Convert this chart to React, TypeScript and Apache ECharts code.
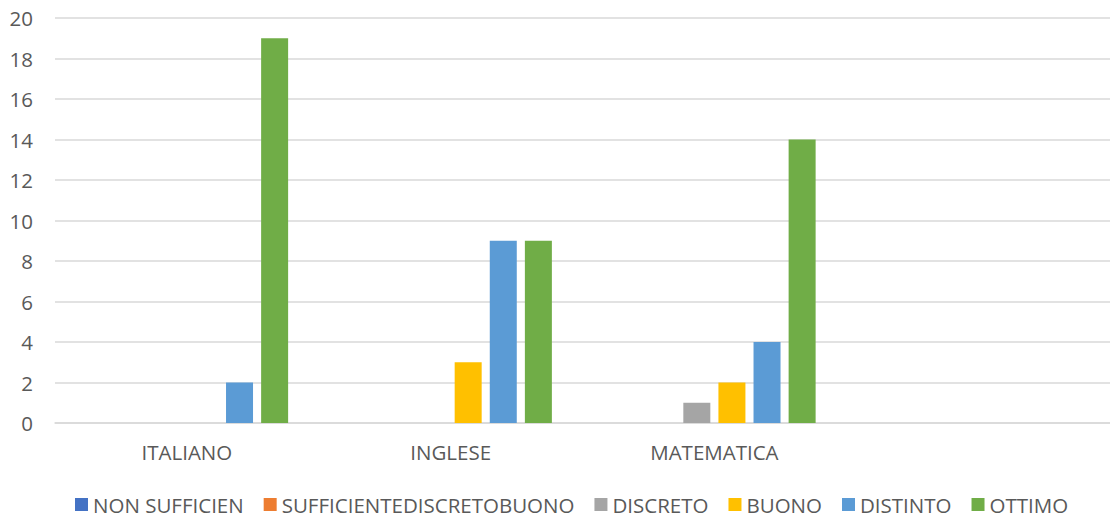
import React, { useEffect, useRef } from "react";
import * as echarts from "echarts";

const categories = ["ITALIANO", "INGLESE", "MATEMATICA", ""];
const seriesNames = ["NON SUFFICIEN", "SUFFICIENTEDISCRETOBUONO", "DISCRETO", "BUONO", "DISTINTO", "OTTIMO"];
const nonSufficiente = [0, 0, 0, null];
const sufficiente = [0, 0, 0, null];
const discreto = [0, 0, 1, null];
const buono = [0, 3, 2, null];
const distinto = [2, 9, 4, null];
const ottimo = [19, 9, 14, null];
const colors = ["#4472C4", "#ED7D31", "#A5A5A5", "#FFC000", "#5B9BD5", "#70AD47"];

const FONT = "'Open Sans', 'Noto Sans', sans-serif";

export default function App() {
  const ref = useRef<HTMLDivElement>(null);
  useEffect(() => {
    const chart = echarts.init(ref.current!, null, { renderer: "svg" });
    const data = [nonSufficiente, sufficiente, discreto, buono, distinto, ottimo];
    chart.setOption({
      animation: false,
      color: colors,
      textStyle: { fontFamily: FONT },
      grid: { left: 55, right: 0, top: 18, bottom: 98, containLabel: false },
      legend: {
        bottom: 1,
        left: 70,
        itemWidth: 13,
        itemHeight: 13,
        itemGap: 20,
        icon: "rect",
        textStyle: { fontSize: 20.5, color: "#595959", fontFamily: FONT },
        data: seriesNames,
      },
      xAxis: {
        type: "category",
        data: categories,
        axisLine: { show: true, lineStyle: { color: "#D9D9D9", width: 1.5 } },
        axisTick: { show: false },
        axisLabel: { fontSize: 20.5, color: "#595959", margin: 18, fontFamily: FONT },
      },
      yAxis: {
        type: "value",
        min: 0,
        max: 20,
        interval: 2,
        axisLine: { show: false },
        axisTick: { show: false },
        splitLine: { lineStyle: { color: "#D9D9D9", width: 1.5 } },
        axisLabel: { fontSize: 20.5, color: "#595959", margin: 22, fontFamily: FONT },
      },
      series: seriesNames.map((name, i) => ({
        name,
        type: "bar",
        data: data[i],
        barWidth: 27,
        barGap: "30%",
        itemStyle: { color: colors[i] },
      })),
    });
    return () => chart.dispose();
  }, []);
  return (
    <div
      ref={ref}
      style={{ position: "absolute", left: 0, top: 0, width: 1110, height: 521, background: "#fff" }}
    />
  );
}
